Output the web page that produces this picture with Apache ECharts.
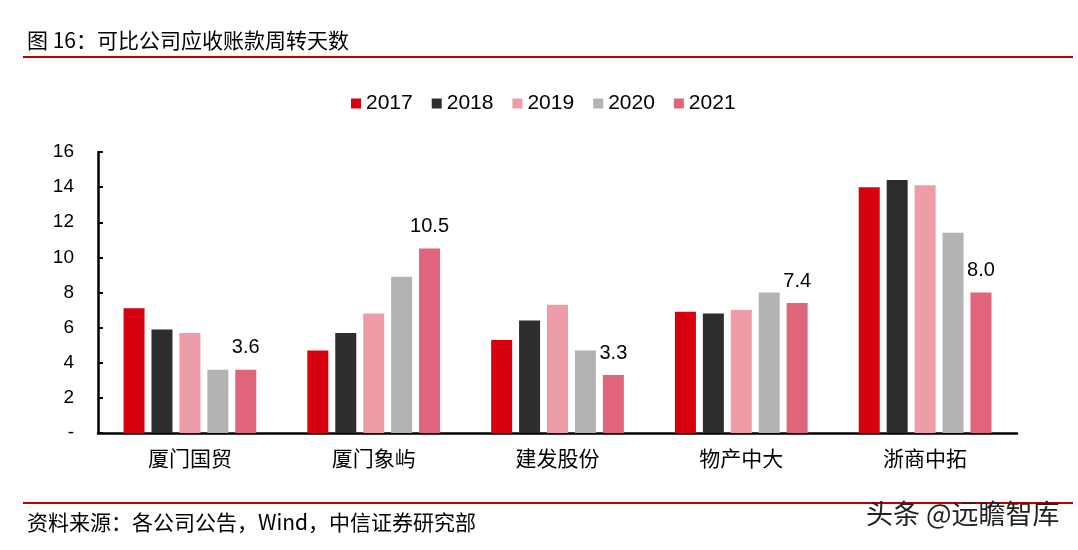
<!DOCTYPE html>
<html>
<head>
<meta charset="utf-8">
<script src="https://cdn.jsdelivr.net/npm/echarts@6/dist/echarts.min.js"></script>
<style>
html,body{margin:0;padding:0;background:#fff;}
#chart{width:1078px;height:550px;}
</style>
</head>
<body>
<div id="chart"></div>
<script>
const categories = ['厦门国贸', '厦门象屿', '建发股份', '物产中大', '浙商中拓'];
const seriesNames = ['2017', '2018', '2019', '2020', '2021'];
const v2017 = [7.1, 4.7, 5.3, 6.9, 14.0];
const v2018 = [5.9, 5.7, 6.4, 6.8, 14.4];
const v2019 = [5.7, 6.8, 7.3, 7.0, 14.1];
const v2020 = [3.6, 8.9, 4.7, 8.0, 11.4];
const v2021 = [3.6, 10.5, 3.3, 7.4, 8.0];
const yTicks = [0, 2, 4, 6, 8, 10, 12, 14, 16];
const colors = ['#D7000F', '#2D2D2D', '#EE9CA7', '#B3B3B3', '#E0647A'];

const FONT = '"Liberation Sans", Arial, "Noto Sans CJK SC", sans-serif';
const CJK = '"Noto Sans CJK SC", sans-serif';
const chart = echarts.init(document.getElementById('chart'));
const allValues = [v2017, v2018, v2019, v2020, v2021];

const series = seriesNames.map((name, i) => ({
  name: name,
  type: 'bar',
  data: allValues[i],
  barWidth: 21,
  barGap: '33%',
  itemStyle: { color: colors[i] },
  label: i === 4 ? {
    show: true,
    position: 'top',
    distance: 12,
    color: '#000',
    fontSize: 20,
    fontFamily: FONT,
    formatter: p => p.value.toFixed(1)
  } : { show: false }
}));

chart.setOption({
  animation: false,
  backgroundColor: '#fff',
  textStyle: { fontFamily: FONT },
  legend: {
    data: seriesNames,
    left: 346,
    top: 88,
    icon: 'rect',
    itemWidth: 10,
    itemHeight: 10,
    itemGap: 19,
    textStyle: { fontSize: 21, color: '#000', fontFamily: FONT }
  },
  grid: { left: 98, right: 61, top: 152, bottom: 117 },
  xAxis: {
    type: 'category',
    data: categories,
    axisLine: { lineStyle: { color: '#000', width: 2.5 } },
    axisTick: { show: false },
    axisLabel: { fontSize: 21, color: '#000', margin: 15, fontFamily: CJK }
  },
  yAxis: {
    type: 'value',
    min: yTicks[0],
    max: yTicks[yTicks.length - 1],
    interval: 2,
    splitLine: { show: false },
    axisLine: { show: true, lineStyle: { color: '#000', width: 2.5 } },
    axisTick: { show: true, inside: true, length: 5, lineStyle: { color: '#000', width: 2 } },
    axisLabel: {
      fontSize: 19, color: '#000', margin: 24, fontFamily: FONT,
      formatter: v => v === 0 ? '-' : String(v)
    }
  },
  series: series,
  graphic: [
    { type: 'text', left: 27, top: 30, style: { text: '图 16：可比公司应收账款周转天数', fontSize: 21, fill: '#000', fontFamily: CJK } },
    { type: 'rect', shape: { x: 23, y: 56, width: 1050, height: 2 }, style: { fill: '#C00000' } },
    { type: 'rect', shape: { x: 23, y: 502, width: 1050, height: 2 }, style: { fill: '#C00000' } },
    { type: 'text', left: 27, top: 512, style: { text: '资料来源：各公司公告，Wind，中信证券研究部', fontSize: 21, fill: '#000', fontFamily: CJK } },
    { type: 'text', left: 866, top: 500, style: { text: '头条 @远瞻智库', fontSize: 27, fill: '#222', fontFamily: CJK } }
  ]
});
</script>
</body>
</html>
